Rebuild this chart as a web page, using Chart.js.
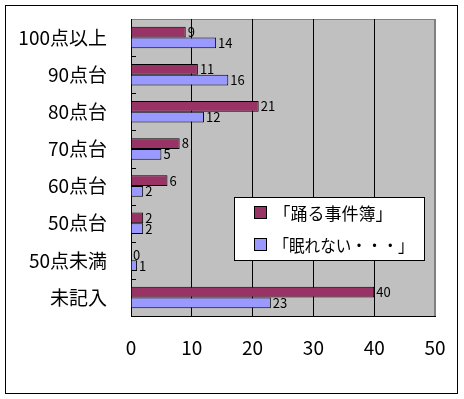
<!DOCTYPE html>
<html lang="ja">
<head>
  <meta charset="UTF-8">
  <title>点数分布</title>
  <script src="https://cdn.jsdelivr.net/npm/chart.js@4"></script>
  <style>
    body { margin: 0; background: #fff; }
    #wrap { width: 464px; height: 399px; }
  </style>
</head>
<body>
  <div id="wrap"><canvas id="chart" width="464" height="399"></canvas></div>

  <script>
    const categories = ['100点以上', '90点台', '80点台', '70点台', '60点台', '50点台', '50点未満', '未記入'];
    const odoru = [9, 11, 21, 8, 6, 2, 0, 40];
    const nemurenai = [14, 16, 12, 5, 2, 2, 1, 23];
    const seriesNames = ['「踊る事件簿」', '「眠れない・・・」'];
    const xTicks = [0, 10, 20, 30, 40, 50];

    const FONT = '"Noto Sans CJK JP", "Noto Sans", sans-serif';

    // 外枠・灰色の背景・カテゴリ境界の目盛り・数値ラベル
    const decor = {
      id: 'decor',
      beforeDraw(chart) {
        const { ctx, chartArea: a } = chart;
        ctx.save();
        ctx.fillStyle = '#fff';
        ctx.fillRect(0, 0, chart.width, chart.height);
        ctx.strokeStyle = '#000';
        ctx.lineWidth = 1;
        ctx.strokeRect(5.5, 5.5, 452, 388);
        ctx.fillStyle = '#C0C0C0';
        ctx.fillRect(a.left, a.top, a.right - a.left, a.bottom - a.top);
        ctx.strokeStyle = '#808080';
        ctx.strokeRect(a.left + 0.5, a.top + 0.5, a.right - a.left - 1, a.bottom - a.top);
        ctx.restore();
      },
      afterDatasetsDraw(chart) {
        const { ctx, chartArea: a } = chart;
        const y = chart.scales.y;
        ctx.save();
        ctx.strokeStyle = '#000';
        ctx.lineWidth = 1;
        for (let i = 1; i < categories.length; i++) {
          const py = Math.round((y.getPixelForValue(i - 1) + y.getPixelForValue(i)) / 2) + 0.5;
          ctx.beginPath();
          ctx.moveTo(a.left, py);
          ctx.lineTo(a.left + 5, py);
          ctx.stroke();
        }
        ctx.fillStyle = '#000';
        ctx.font = '13px ' + FONT;
        ctx.textBaseline = 'middle';
        chart.data.datasets.forEach((ds, di) => {
          chart.getDatasetMeta(di).data.forEach((bar, i) => {
            ctx.fillText(String(ds.data[i]), bar.x + 2, bar.y);
          });
        });
        ctx.restore();
      }
    };

    new Chart(document.getElementById('chart'), {
      type: 'bar',
      data: {
        labels: categories,
        datasets: [
          { label: seriesNames[0], data: odoru, backgroundColor: '#993366', borderColor: '#000', borderWidth: 1 },
          { label: seriesNames[1], data: nemurenai, backgroundColor: '#9999FF', borderColor: '#000', borderWidth: 1 }
        ]
      },
      options: {
        indexAxis: 'y',
        responsive: false,
        animation: false,
        layout: { padding: { left: 0, top: 19, right: 29, bottom: 30 } },
        datasets: { bar: { categoryPercentage: 0.58, barPercentage: 1 } },
        scales: {
          x: {
            min: 0, max: 50,
            afterBuildTicks: s => { s.ticks = xTicks.map(v => ({ value: v })); },
            afterFit: s => { s.height = 53; s.paddingLeft = 0; s.paddingRight = 0; },
            grid: {
              drawTicks: false,
              color: c => c.tick.value === 0 ? 'rgba(0,0,0,0)' : (c.tick.value === 50 ? '#808080' : '#000')
            },
            border: { display: true, color: '#000' },
            ticks: { color: '#000', padding: 20, font: { family: FONT, size: 19 } }
          },
          y: {
            afterFit: s => { s.width = 131; s.paddingTop = 0; s.paddingBottom = 0; },
            grid: { display: false },
            border: { display: true, color: '#000' },
            ticks: { color: '#000', padding: 16, font: { family: FONT, size: 19 } }
          }
        },
        plugins: {
          legend: { display: false },
          tooltip: { enabled: false }
        }
      },
      plugins: [decor, {
        id: 'legendBox',
        afterDraw(chart) {
          // 凡例（グラフ内の白い箱）
          const { ctx } = chart;
          const x = chart.scales.x, y = chart.scales.y;
          const left = Math.round(x.getPixelForValue(17)) + 0.5;
          const right = Math.round(x.getPixelForValue(48.2)) + 0.5;
          const top = Math.round(y.getPixelForValue(4.3)) + 0.5;
          const bottom = Math.round(y.getPixelForValue(5.98)) + 0.5;
          ctx.save();
          ctx.fillStyle = '#fff';
          ctx.strokeStyle = '#000';
          ctx.lineWidth = 1;
          ctx.fillRect(left, top, right - left, bottom - top);
          ctx.strokeRect(left, top, right - left, bottom - top);
          ctx.font = '17px ' + FONT;
          ctx.textBaseline = 'middle';
          const rowH = (bottom - top) / 2;
          chart.data.datasets.forEach((ds, i) => {
            const cy = Math.round(top + rowH * (i + 0.5));
            ctx.fillStyle = ds.backgroundColor;
            ctx.fillRect(left + 20, cy - 6.5, 12, 12);
            ctx.strokeRect(left + 20, cy - 6.5, 12, 12);
            ctx.fillStyle = '#000';
            ctx.fillText(ds.label, left + 39, cy + 1, right - left - 50);
          });
          ctx.restore();
        }
      }]
    });
  </script>
</body>
</html>
